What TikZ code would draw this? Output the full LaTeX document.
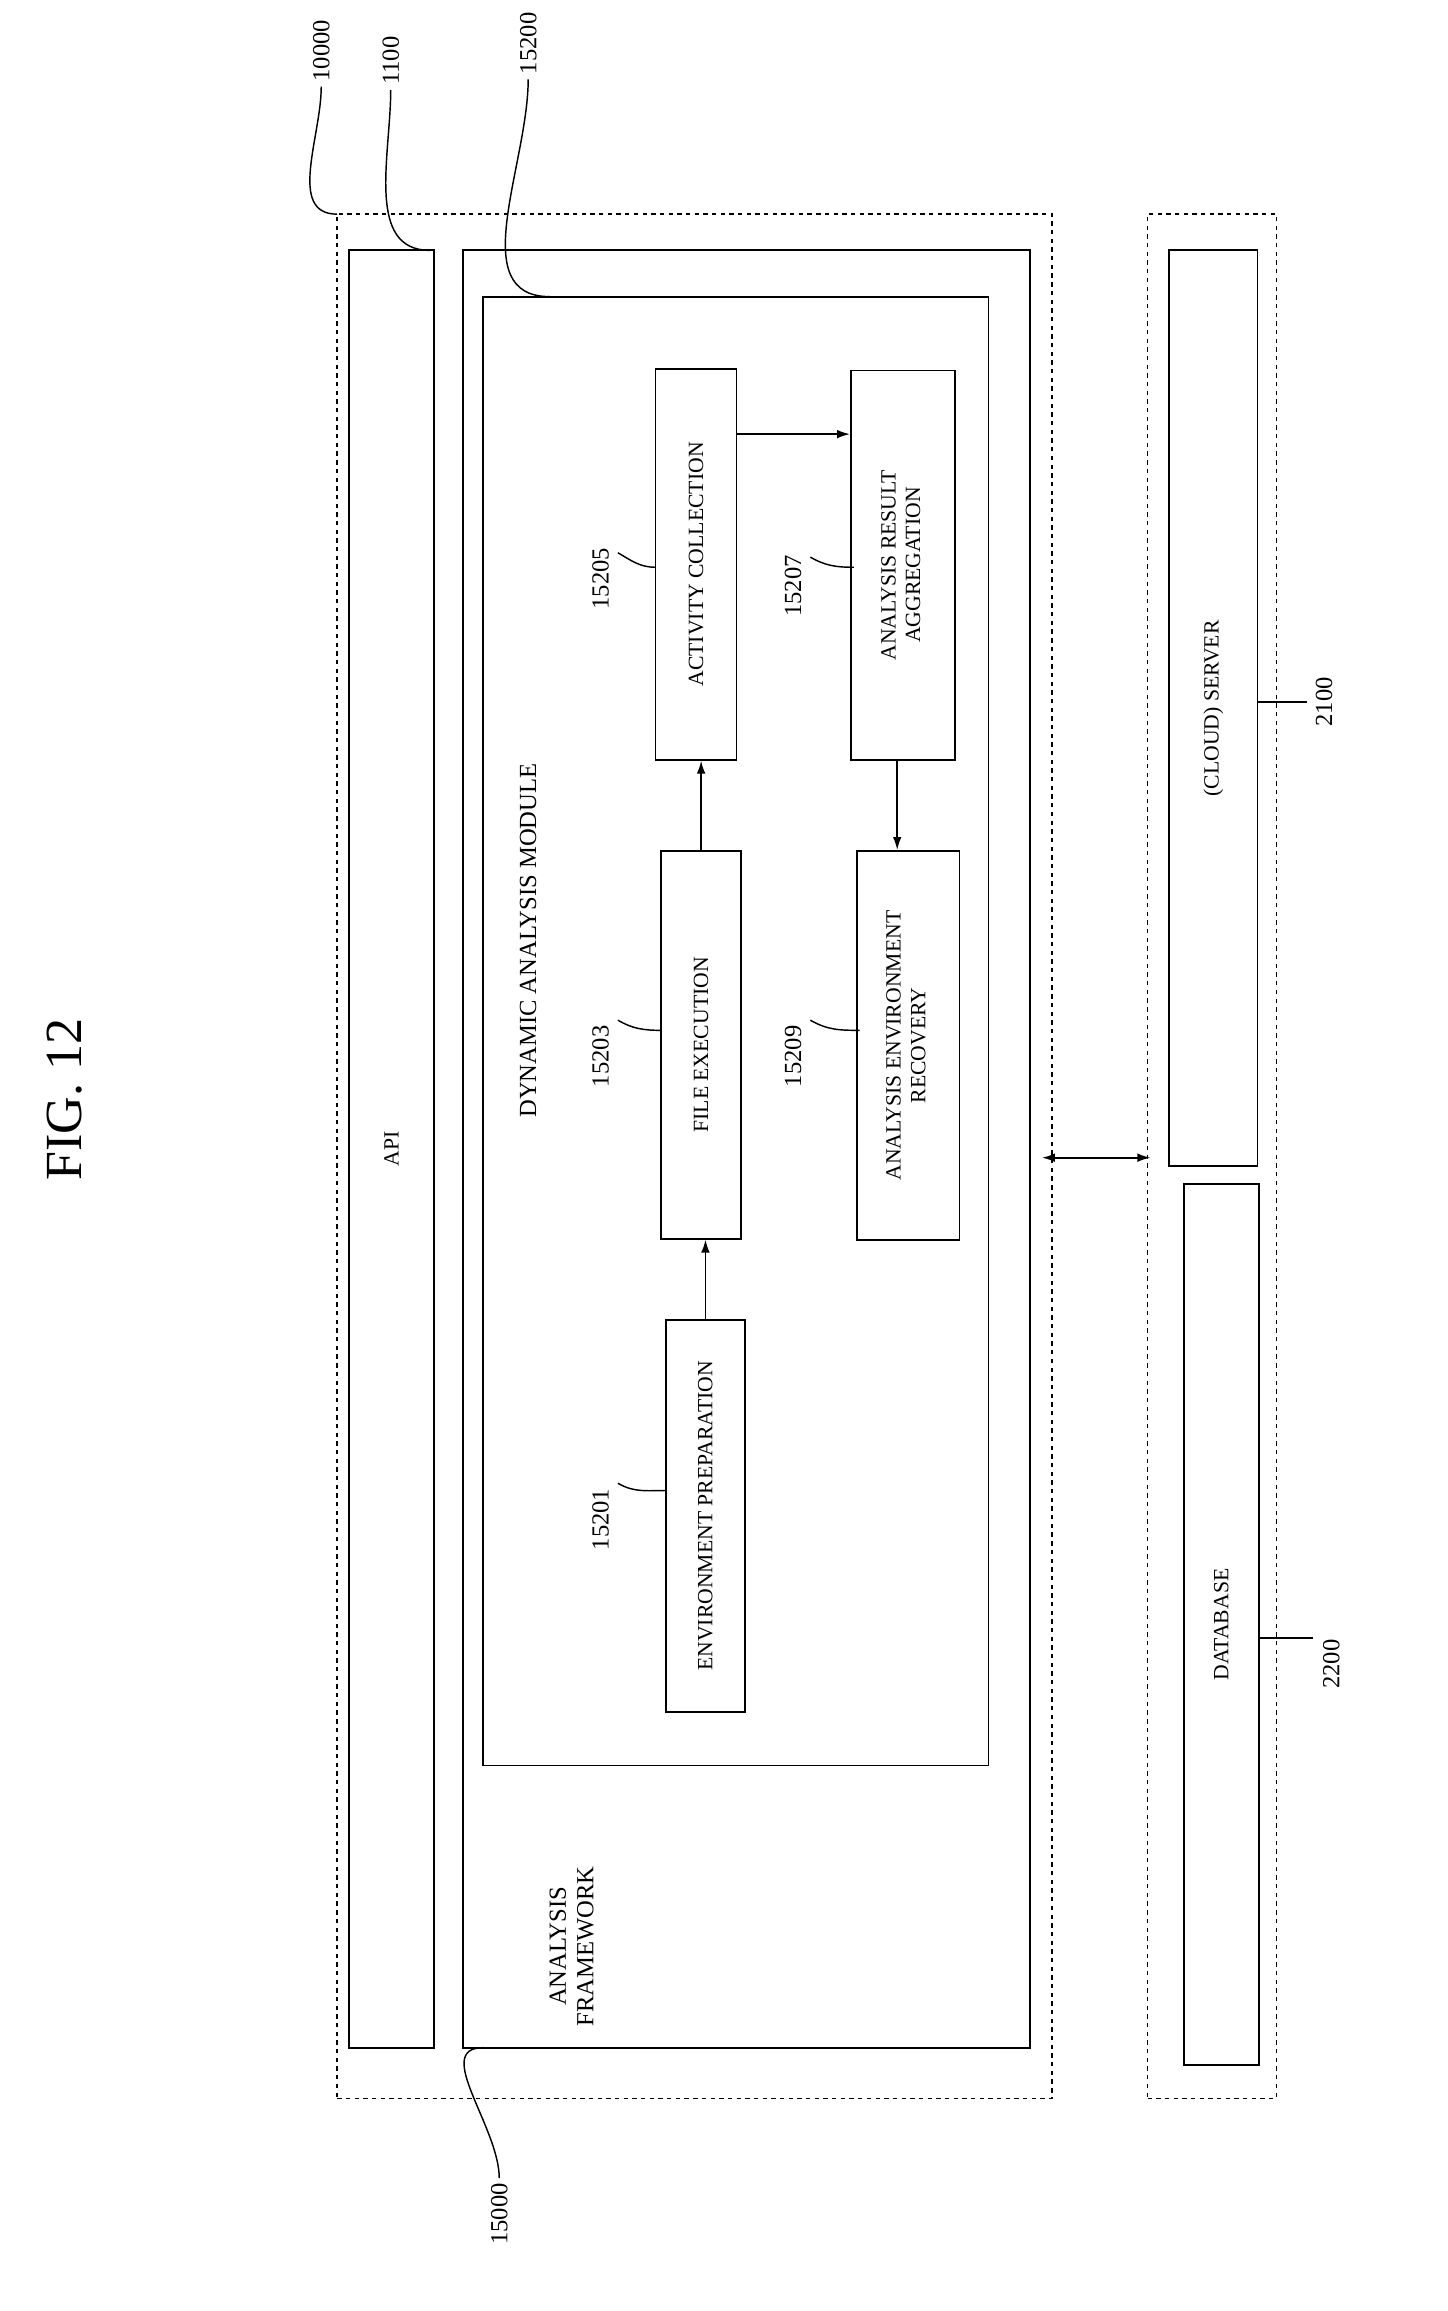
\documentclass[tikz,border=0pt]{standalone}
\usepackage{fontspec}
\setmainfont{Liberation Serif}
\usetikzlibrary{arrows.meta}
\begin{document}
\begin{tikzpicture}[x=1pt,y=-1pt,
 box/.style={draw,line width=1.2pt,inner sep=0pt,font=\fontsize{15}{17}\selectfont,align=center},
 dbox/.style={draw,dashed,line width=1.1pt,inner sep=0pt},
 lab/.style={font=\fontsize{17}{19}\selectfont,rotate=90},
 lead/.style={line width=1pt},
 arr/.style={line width=1.2pt,-{Latex[length=9pt,width=6pt]}}]
\useasboundingbox (0,0) rectangle (1000,1597);
\node[lab,font=\fontsize{36}{40}\selectfont] (fig) at (45,760) {FIG. 12};
\node[dbox,minimum width=494,minimum height=1302] (d10000) at (480,799) {};
\node[box,minimum width=59,minimum height=1242] (api) at (270.5,794) {\rotatebox{90}{API}};
\node[box,minimum width=392,minimum height=1242] (fw) at (516,794) {};
\node[box,minimum width=349,minimum height=1015] (dam) at (508.5,712.5) {};
\node[lab] (damt) at (365,650) {DYNAMIC ANALYSIS MODULE};
\node[lab,align=center] (fwt) at (395,1345) {ANALYSIS\\FRAMEWORK};
\node[box,minimum width=55,minimum height=271] (ep) at (487.5,1047.5) {\rotatebox{90}{ENVIRONMENT PREPARATION}};
\node[box,minimum width=55,minimum height=268] (fe) at (484.5,722) {\rotatebox{90}{FILE EXECUTION}};
\node[box,minimum width=56,minimum height=270] (ac) at (481,390) {\rotatebox{90}{ACTIVITY COLLECTION}};
\node[box,minimum width=72,minimum height=269] (ar) at (624,390.5) {\rotatebox{90}{\begin{tabular}{c}ANALYSIS RESULT\\AGGREGATION\end{tabular}}};
\node[box,minimum width=71,minimum height=269] (er) at (627.5,722.5) {\rotatebox{90}{\begin{tabular}{c}ANALYSIS ENVIRONMENT\\RECOVERY\end{tabular}}};
\node[dbox,minimum width=89,minimum height=1302] (d2) at (837.5,799) {};
\node[box,minimum width=61,minimum height=633] (cs) at (838.5,489.5) {\rotatebox{90}{(CLOUD) SERVER}};
\node[box,minimum width=52,minimum height=609] (db) at (844,1122.5) {\rotatebox{90}{DATABASE}};
\draw[arr] (ep.north) -- (ep.north|-fe.south);
\draw[arr] (fe.north) -- (fe.north|-ac.south);
\draw[arr] (ac.east|-0,300) -- (ar.west|-0,300);
\draw[arr] (ar.south-|620,0) -- (er.north-|620,0);
\coordinate (dl) at (720,800); \coordinate (dr) at (795,800);
\draw[line width=1.2pt,{Latex[length=9pt,width=6pt]}-{Latex[length=9pt,width=6pt]}] (dl) -- (dr);
\node[lab] (l10000) at (222,35) {10000};
\node[lab] (l1100) at (270,42) {1100};
\node[lab] (l15200) at (365,30) {15200};
\node[lab] (l15000) at (345,1530) {15000};
\node[lab] (l15201) at (415,1050) {15201};
\node[lab] (l15203) at (415,730) {15203};
\node[lab] (l15205) at (415,400) {15205};
\node[lab] (l15207) at (548,405) {15207};
\node[lab] (l15209) at (548,730) {15209};
\node[lab] (l2100) at (915,485) {2100};
\node[lab] (l2200) at (920,1150) {2200};
\draw[lead] (l10000.west) to[out=-90,in=180] (233,148);
\draw[lead] (l1100.west) to[out=-90,in=180] (297,173);
\draw[lead] (l15200.west) to[out=-90,in=180] (380,205);
\draw[lead] (l15000.east) to[out=90,in=180] (334,1415);
\draw[lead] (427,1025) to[out=-30,in=180] (460,1030);
\draw[lead] (427,705) to[out=-30,in=180] (457,712);
\draw[lead] (427,382) to[out=-30,in=180] (453,392);
\draw[lead] (560,385) to[out=-30,in=180] (590,392);
\draw[lead] (560,705) to[out=-30,in=180] (594,712);
\draw[lead] (903,485) to[out=180,in=0] (869,485);
\draw[lead] (907,1132) to[out=180,in=0] (870,1132);
\end{tikzpicture}
\end{document}
